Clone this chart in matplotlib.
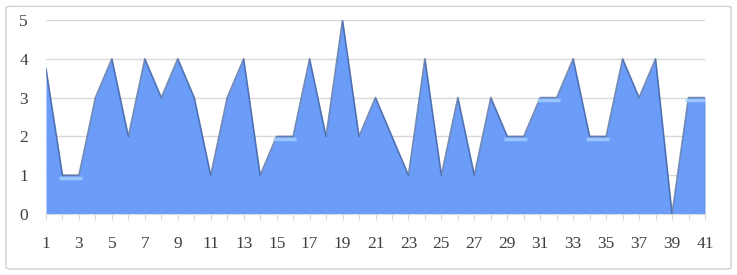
import matplotlib
matplotlib.use("Agg")
import matplotlib.pyplot as plt
from matplotlib.patches import FancyBboxPatch
import numpy as np

categories = list(range(1, 42))
values = [3.75, 1, 1, 3, 4, 2, 4, 3, 4, 3,
          1, 3, 4, 1, 2, 2, 4, 2, 5, 2,
          3, 2, 1, 4, 1, 3, 1, 3, 2, 2,
          3, 3, 4, 2, 2, 4, 3, 4, 0, 3,
          3]
yticks = [0, 1, 2, 3, 4, 5]

plt.rcParams['font.family'] = ['Liberation Serif', 'DejaVu Serif']

fig = plt.figure(figsize=(7.37, 2.75), dpi=100)
border = FancyBboxPatch((0.008, 0.022), 0.984, 0.955,
                        boxstyle="round,pad=0,rounding_size=0.006",
                        transform=fig.transFigure, facecolor='none',
                        edgecolor='#d0d0d0', linewidth=1.0, zorder=-1)
fig.patches.append(border)

ax = fig.add_axes([46/737, 1-214/275, (705-46)/737, (214-20)/275])
ax.set_facecolor('none')

x = np.array(categories)
y = np.array(values)
ax.fill_between(x, 0, y, color='#6a9cf8', linewidth=0, zorder=2)
ax.plot(x, y, color='#3b5a96', linewidth=1.2, alpha=0.7, zorder=3)
ax.plot([x[-1], x[-1]], [0, y[-1]], color='#3b5a96', linewidth=1.0, alpha=0.6, zorder=3)

# highlight flat segments
for i in range(len(y) - 1):
    if y[i] == y[i + 1] and y[i] > 0:
        ax.plot([x[i] - 0.2, x[i + 1] + 0.2], [y[i] - 0.06, y[i + 1] - 0.06],
                color='#a6d2ff', linewidth=2.5, alpha=0.8,
                solid_capstyle='butt', zorder=4)

ax.set_xlim(1, 41)
ax.set_ylim(0, 5)
ax.set_yticks(yticks)
ax.set_xticks(categories)
ax.set_xticklabels([str(c) if (c % 2 == 1) else '' for c in categories])
ax.grid(axis='y', color='#d9d9d9', linewidth=1.0, zorder=0)
ax.set_axisbelow(True)
for s in ['top', 'right', 'left']:
    ax.spines[s].set_visible(False)
ax.spines['bottom'].set_color('#d9d9d9')
ax.tick_params(axis='y', length=0, pad=13, labelsize=12.5, labelcolor='#404040')
ax.tick_params(axis='x', length=4, color='#d9d9d9', pad=12, labelsize=12.5, labelcolor='#404040')

fig.savefig('out.png', dpi=100)
